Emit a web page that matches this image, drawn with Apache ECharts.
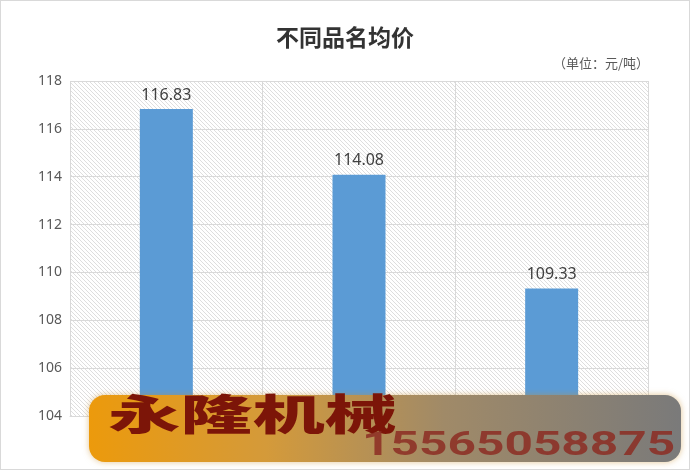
<!DOCTYPE html>
<html><head><meta charset="utf-8">
<script src="https://cdn.jsdelivr.net/npm/echarts@6/dist/echarts.min.js"></script>
<style>html,body{margin:0;padding:0;background:#fff}#c{width:690px;height:470px;box-sizing:border-box;border:1px solid #d9d9d9}</style>
</head><body><div id="c"></div>
<script>
const categories = ['品名一', '品名二', '品名三'];
const values = [116.83, 114.08, 109.33];
const yTicks = [104, 106, 108, 110, 112, 114, 116, 118];
const titleText = '不同品名均价';
const unitText = '（单位：元/吨）';
const brandText = '永隆机械';
const phoneText = '15565058875';

const pc = document.createElement('canvas');
pc.width = 4; pc.height = 4;
const g = pc.getContext('2d');
g.fillStyle = '#ffffff'; g.fillRect(0,0,4,4);
g.strokeStyle = '#dadada'; g.lineWidth = 0.9;
g.beginPath(); g.moveTo(-1,-1); g.lineTo(5,5); g.stroke();
g.beginPath(); g.moveTo(-1,3); g.lineTo(1,5); g.stroke();
g.beginPath(); g.moveTo(3,-1); g.lineTo(5,1); g.stroke();

const chart = echarts.init(document.getElementById('c'), null, {renderer: 'canvas'});
chart.setOption({
  animation: false,
  title: {text: titleText, left: 'center', top: 20, textStyle: {fontSize: 23, fontWeight: 'bold', color: '#333', fontFamily: 'Noto Sans CJK SC'}},
  grid: {left: 69, right: 41, top: 80, bottom: 53, show: true, backgroundColor: {image: pc, repeat: 'repeat'}, borderWidth: 0},
  xAxis: {type: 'category', data: categories, axisLine: {show: true, lineStyle: {color: '#d9d9d9'}}, axisTick: {show: false}, axisLabel: {show: false},
    splitLine: {show: true, lineStyle: {color: '#d9d9d9'}}},
  yAxis: {type: 'value', min: yTicks[0], max: yTicks[yTicks.length-1], interval: 2,
    axisLine: {show: false}, axisTick: {show: false},
    axisLabel: {color: '#595959', fontSize: 14, margin: 8, fontFamily: 'Noto Sans'},
    splitLine: {lineStyle: {color: '#d9d9d9'}}},
  series: [{type: 'bar', data: values, barWidth: 53, itemStyle: {color: '#5b9bd5'},
    label: {show: true, position: 'top', distance: 6, color: '#404040', fontSize: 16, fontFamily: 'Noto Sans', formatter: p => p.value.toFixed(2)}}],
  graphic: [
    {type: 'text', right: 40, top: 56, style: {text: unitText, font: '13px "Noto Sans CJK SC"', fill: '#595959'}},
    {type: 'rect', x: 88, y: 394, shape: {width: 592, height: 67, r: 16}, z: 100,
      style: {fill: new echarts.graphic.LinearGradient(0,0,1,0,[{offset:0,color:'#ec9a0c'},{offset:0.3,color:'#d49a3a'},{offset:0.6,color:'#a08a68'},{offset:1,color:'#7a7a7a'}]),
        shadowBlur: 6, shadowColor: 'rgba(200,140,40,0.5)'}},
    {type: 'text', x: 107, y: 392, scaleX: 1.72, z: 101, style: {text: brandText, font: '900 42px "Noto Sans CJK SC"', fill: '#7c1508'}},
    {type: 'text', x: 361, y: 428, scaleX: 1.46, z: 101, style: {text: phoneText, font: 'bold 34px Roboto', fill: 'rgba(140,45,35,0.85)'}}
  ]
});
</script></body></html>
